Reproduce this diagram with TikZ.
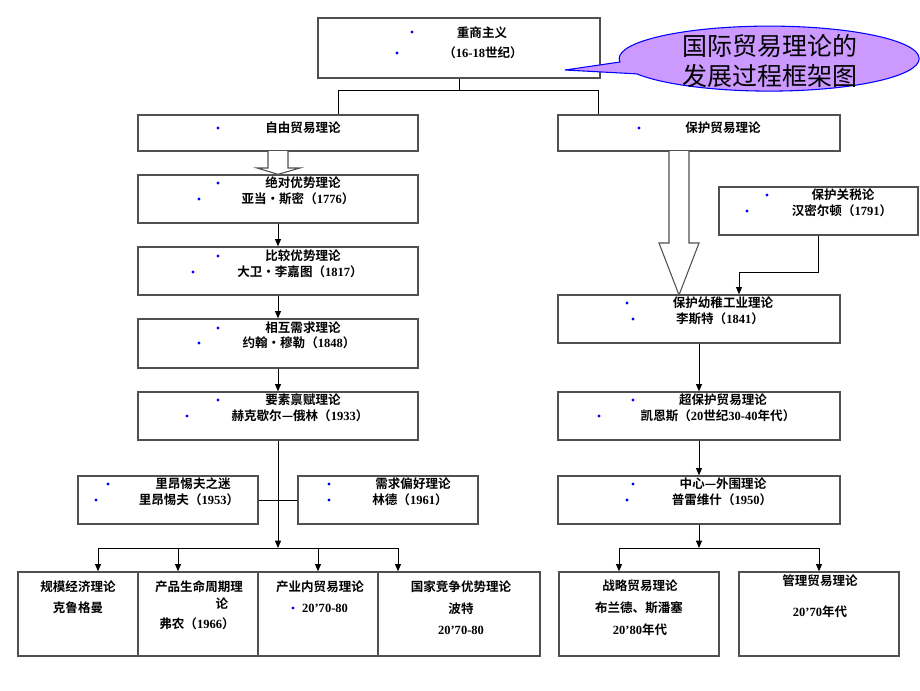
\documentclass[tikz,border=0pt]{standalone}
\usepackage{fontspec}
\setmainfont{Liberation Serif}
\newfontfamily\cjk[BoldFont={Noto Sans CJK SC Bold}]{Noto Sans CJK SC}
\usepackage{tikz}
\usetikzlibrary{fit,arrows.meta}
\definecolor{boxgray}{RGB}{80,80,80}
\definecolor{calloutfill}{RGB}{204,153,255}
\newcommand\lat[1]{{\rmfamily\bfseries #1}}

\begin{document}
\begin{tikzpicture}[x=0.75pt,y=-0.75pt,
  box/.style={draw=boxgray, line width=1pt, inner sep=0pt},
  txt/.style={inner sep=0pt, font=\cjk\bfseries\fontsize{9.4}{11}\selectfont},
  arr/.style={-{Triangle[length=5.5pt,width=4.5pt]}, line width=0.75pt},
  lnk/.style={line width=0.75pt},
  hollow/.style={draw=boxgray, line width=0.8pt, fill=white},
  callout/.style={draw=blue, line width=0.8pt, fill=calloutfill},
  bullet/.style={fill=blue}]
  \useasboundingbox (0,0) rectangle (920,690);

  % boxes
  \node[box, fit={(318,18) (600,78)}] (merc) {};
  \node[box, fit={(138,115) (418,151)}] (free) {};
  \node[box, fit={(558,115) (840,151)}] (prot) {};
  \node[box, fit={(138,175) (418,223)}] (abs) {};
  \node[box, fit={(138,247) (418,295)}] (comp) {};
  \node[box, fit={(138,319) (418,368)}] (recip) {};
  \node[box, fit={(138,392) (418,440)}] (hos) {};
  \node[box, fit={(78,476) (258,524)}] (leon) {};
  \node[box, fit={(298,476) (478,524)}] (pref) {};
  \node[box, fit={(18,572) (138,656)}] (scale) {};
  \node[box, fit={(138,572) (258,656)}] (plc) {};
  \node[box, fit={(258,572) (378,656)}] (intra) {};
  \node[box, fit={(378,572) (540,656)}] (nat) {};
  \node[box, fit={(719,187) (918,235)}] (tariff) {};
  \node[box, fit={(558,295) (840,343)}] (infant) {};
  \node[box, fit={(558,392) (840,440)}] (super) {};
  \node[box, fit={(558,476) (840,524)}] (core) {};
  \node[box, fit={(559,572) (719,656)}] (strat) {};
  \node[box, fit={(739,572) (899,656)}] (manag) {};

  % callout
  \draw[callout] (565,70) -- (620,62) arc[start angle=174, end angle=512, x radius=150, y radius=32.5] -- cycle;
  \node[inner sep=0pt, align=center, font=\cjk\fontsize{18.75}{22.5}\selectfont] (title) at (770,61) {国际贸易理论的\\发展过程框架图};

  % texts
  \node[txt] (merc-a) at (482,33) {重商主义};
  \node[txt] (merc-b) at (483,53) {（\lat{16-18}世纪）};
  \node[txt] (free-a) at (303,128) {自由贸易理论};
  \node[txt] (abs-a) at (303,183) {绝对优势理论};
  \node[txt] (abs-b) at (298,199) {亚当•斯密（\lat{1776}）};
  \node[txt] (comp-a) at (303,256) {比较优势理论};
  \node[txt] (comp-b) at (300,272) {大卫•李嘉图（\lat{1817}）};
  \node[txt] (recip-a) at (303,328) {相互需求理论};
  \node[txt] (recip-b) at (299,343) {约翰•穆勒（\lat{1848}）};
  \node[txt] (hos-a) at (303,400) {要素禀赋理论};
  \node[txt] (hos-b) at (300,416) {赫克歇尔—俄林（\lat{1933}）};
  \node[txt] (leon-a) at (193,484) {里昂惕夫之迷};
  \node[txt] (leon-b) at (189,500) {里昂惕夫（\lat{1953}）};
  \node[txt] (pref-a) at (413,484) {需求偏好理论};
  \node[txt] (pref-b) at (410,500) {林德（\lat{1961}）};
  \node[txt] (scale-a) at (78,587) {规模经济理论};
  \node[txt] (scale-b) at (78,608) {克鲁格曼};
  \node[txt] (plc-a) at (199,587) {产品生命周期理};
  \node[txt] (plc-b) at (222,604) {论};
  \node[txt] (plc-c) at (197,624) {弗农（\lat{1966}）};
  \node[txt] (intra-a) at (320,587) {产业内贸易理论};
  \node[txt] (intra-b) at (325,608) {\lat{20’70-80}};
  \node[txt] (nat-a) at (461,587) {国家竞争优势理论};
  \node[txt] (nat-b) at (461,609) {波特};
  \node[txt] (nat-c) at (461,630) {\lat{20’70-80}};
  \node[txt] (strat-a) at (640,586) {战略贸易理论};
  \node[txt] (strat-b) at (639,608) {布兰德、斯潘塞};
  \node[txt] (strat-c) at (640,630) {\lat{20’80}年代};
  \node[txt] (manag-a) at (820,581) {管理贸易理论};
  \node[txt] (manag-b) at (820,612) {\lat{20’70}年代};
  \node[txt] (prot-a) at (723,128) {保护贸易理论};
  \node[txt] (tariff-a) at (843,195) {保护关税论};
  \node[txt] (tariff-b) at (842,211) {汉密尔顿（\lat{1791}）};
  \node[txt] (infant-a) at (723,303) {保护幼稚工业理论};
  \node[txt] (infant-b) at (720,319) {李斯特（\lat{1841}）};
  \node[txt] (super-a) at (723,400) {超保护贸易理论};
  \node[txt] (super-b) at (718,416) {凯恩斯（\lat{20}世纪\lat{30-40}年代）};
  \node[txt] (core-a) at (723,484) {中心—外围理论};
  \node[txt] (core-b) at (722,500) {普雷维什（\lat{1950}）};

  \foreach \p in {(412,32),(397,53),(218,128),(218,183),(199,199),(218,256),(193,272),
    (218,328),(199,343),(218,400),(187,416),(108,484),(96,500),(329,484),(329,500),(293,608),
    (639,128),(767,195),(747,211),(627,303),(633,319),(633,400),(599,416),(633,484),(627,500)}
    \fill[bullet] \p circle (1.6);

  % connectors
  \coordinate (lft) at (338,90);
  \coordinate (rgt) at (598,90);
  \draw[lnk] (merc.south) -- (merc.south |- lft);
  \draw[lnk] (lft |- free.north) -- (lft) -- (rgt) -- (rgt |- prot.north);

  \draw[hollow] (268,151) -- (268,168) -- (257,168) -- (abs.north) -- (300,168) -- (288,168) -- (288,151);
  \draw[arr] (abs.south) -- (comp.north);
  \draw[arr] (comp.south) -- (recip.north);
  \draw[arr] (recip.south) -- (hos.north);
  \coordinate (busl) at (278,548);
  \draw[arr] (hos.south) -- (busl);
  \draw[lnk] (leon.east) -- (pref.west);
  \coordinate (b1) at (98,548);
  \coordinate (b2) at (178,548);
  \coordinate (b3) at (318,548);
  \coordinate (b4) at (398,548);
  \draw[lnk] (b1) -- (b4);
  \draw[arr] (b1) -- (b1 |- scale.north);
  \draw[arr] (b2) -- (b2 |- plc.north);
  \draw[arr] (b3) -- (b3 |- intra.north);
  \draw[arr] (b4) -- (b4 |- nat.north);

  \draw[hollow] (669,151) -- (669,243) -- (659,243) -- (679,295) -- (699,243) -- (689,243) -- (689,151);
  \coordinate (jn) at (739,272);
  \draw[arr] (tariff.south) |- (jn) -- (jn |- infant.north);
  \draw[arr] (infant.south) -- (super.north);
  \draw[arr] (super.south) -- (core.north);
  \coordinate (busr) at (699,548);
  \draw[arr] (core.south) -- (busr);
  \coordinate (r1) at (619,548);
  \coordinate (r2) at (819,548);
  \draw[lnk] (r1) -- (r2);
  \draw[arr] (r1) -- (r1 |- strat.north);
  \draw[arr] (r2) -- (r2 |- manag.north);
\end{tikzpicture}
\end{document}
